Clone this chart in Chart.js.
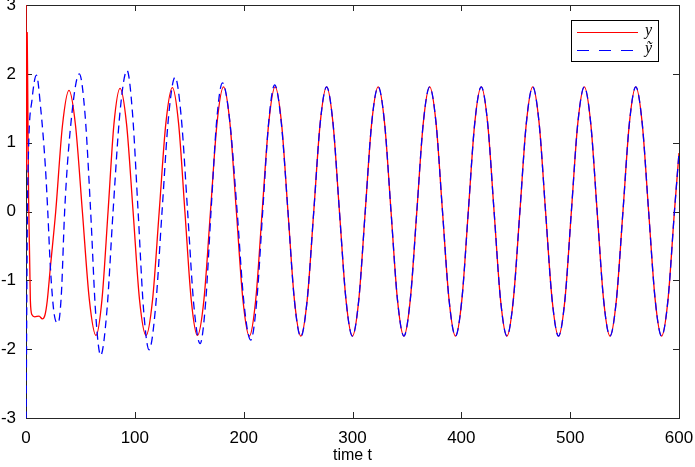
<!doctype html>
<html lang="en">
  <head>
    <meta charset="utf-8">
    <title>y and y tilde over time</title>
    <style>
      * { margin: 0; padding: 0; }
      body { background: white; }
      .chartBox { width: 695px; height: 467px; }
    </style>
  </head>
  <body>
    <div class="chartBox">
      <canvas id="myChart"></canvas>
    </div>
    <script src="https://cdn.jsdelivr.net/npm/chart.js/dist/chart.umd.min.js"></script>
    <script>
    // setup - values
    const xTicks = [0, 100, 200, 300, 400, 500, 600];
    const yTicks = [-3, -2, -1, 0, 1, 2, 3];

    // y (red) start-up part
    const yStartT = [0, 0.5, 1.1, 1.8, 2.4, 4, 5.5, 8, 12, 15, 17.5, 19.5, 22.4, 27.3, 33.5, 39.5,
      45.5, 51.8, 58.2, 64.3, 69.8, 75.4, 80.8, 86.4, 92.4, 98.4, 104.3, 110.3, 116.3, 122.4, 128.5, 134.5,
      140.2, 146.0, 151.8, 157.5, 163.5, 169.5, 175.5, 181.5, 187.4, 193.3, 199.3, 205.2, 211.1, 217.0,
      223.0, 228.9, 234.8, 240.7, 246.6, 252.5];
    const yStartV = [3.4, 0.6, 2.6, 1.3, 0.17, -1.29, -1.5, -1.53, -1.52, -1.56, -1.5, -1.3, -0.81, 0, 1.25, 1.76,
      1.25, 0, -1.28, -1.80, -1.28, 0, 1.27, 1.79, 1.27, 0, -1.28, -1.80, -1.28, 0, 1.28, 1.80,
      1.28, 0, -1.28, -1.80, -1.28, 0, 1.28, 1.81, 1.28, 0, -1.28, -1.81, -1.28, 0,
      1.28, 1.81, 1.28, 0, -1.28, -1.81];

    // y tilde (blue) start-up part
    const ytStartT = [0, 1.2, 2.4, 5.5, 9.6, 13.5, 17.8, 20, 22.4, 26, 29.5, 32.5, 35.5, 40.4, 49,
      54.2, 59.4, 64, 68.6, 74.3, 80, 86.4, 92.8, 97.9, 103, 108, 113.1, 119, 125, 131, 137,
      142.7, 148.5, 154.2, 160, 165, 170, 175.2, 180.5, 187.2, 194, 200.2, 206.5, 212, 217.5,
      223, 228.5, 234.5, 240.7, 246.6, 252.5];
    const ytStartV = [-3.4, -0.2, 0.94, 1.62, 1.98, 1.5, 0.65, 0, -0.81, -1.5, -1.62, -1.2, 0, 1.14, 2.0,
      1.42, 0, -1.48, -2.09, -1.45, 0, 1.45, 2.05, 1.42, 0, -1.42, -2.01, -1.4, 0, 1.38, 1.95,
      1.36, 0, -1.36, -1.92, -1.33, 0, 1.32, 1.87, 1.32, 0, -1.32, -1.87, -1.3, 0,
      1.3, 1.84, 1.3, 0, -1.29, -1.82];

    // after t ~ 255 both curves sit on top of each other
    const bothT = [258.4, 264.4, 270.3, 276.2, 282.1, 288.0, 294.0, 299.9, 305.8, 311.7, 317.6, 323.6,
      329.5, 335.4, 341.3, 347.2, 353.1, 359.1, 365.0, 370.9, 376.8, 382.7, 388.7, 394.6,
      400.5, 406.4, 412.3, 418.3, 424.2, 430.1, 436.0, 441.9, 447.8, 453.8, 459.7, 465.6,
      471.5, 477.4, 483.4, 489.3, 495.2, 501.1, 507.0, 513.0, 518.9, 524.8, 530.7, 536.6,
      542.5, 548.5, 554.4, 560.3, 566.2, 572.1, 578.1, 584.0, 589.9, 595.8, 600];
    const bothV = [-1.28, 0, 1.28, 1.81, 1.28, 0, -1.28, -1.81, -1.28, 0, 1.28, 1.81,
      1.28, 0, -1.28, -1.81, -1.28, 0, 1.28, 1.81, 1.28, 0, -1.28, -1.81,
      -1.28, 0, 1.28, 1.81, 1.28, 0, -1.28, -1.81, -1.28, 0, 1.28, 1.81,
      1.28, 0, -1.28, -1.81, -1.28, 0, 1.28, 1.81, 1.28, 0, -1.28, -1.81,
      -1.28, 0, 1.28, 1.81, 1.28, 0, -1.28, -1.81, -1.28, 0, 0.85];

    const toPoints = (ts, vs) => ts.map((t, i) => ({ x: t, y: vs[i] }));

    const data = {
      datasets: [{
        label: 'y',
        data: toPoints(yStartT.concat(bothT), yStartV.concat(bothV)),
        borderColor: '#ff0000',
        borderWidth: 1.3,
        order: 2,
      }, {
        label: 'ỹ',
        data: toPoints(ytStartT.concat(bothT), ytStartV.concat(bothV)),
        borderColor: '#0000ff',
        borderWidth: 1.3,
        borderDash: [8, 5],
        order: 1,
      }]
    };

    // matlab style box with inward ticks
    const axesBox = {
      id: 'axesBox',
      beforeDatasetsDraw(chart) {
        const { ctx, chartArea: { top, bottom, left, right }, scales: { x, y } } = chart;
        ctx.save();
        ctx.strokeStyle = '#262626';
        ctx.lineWidth = 1;
        ctx.strokeRect(left + 0.5, top + 0.5, right - left, bottom - top);
        ctx.beginPath();
        xTicks.forEach(v => {
          const px = Math.round(x.getPixelForValue(v)) + 0.5;
          ctx.moveTo(px, bottom); ctx.lineTo(px, bottom - 6);
          ctx.moveTo(px, top); ctx.lineTo(px, top + 6);
        });
        yTicks.forEach(v => {
          const py = Math.round(y.getPixelForValue(v)) + 0.5;
          ctx.moveTo(left, py); ctx.lineTo(left + 6, py);
          ctx.moveTo(right, py); ctx.lineTo(right - 6, py);
        });
        ctx.stroke();
        ctx.restore();
      }
    };

    // legend box top right
    const legendBox = {
      id: 'legendBox',
      afterDatasetsDraw(chart) {
        const { ctx } = chart;
        const bx = 571.5, by = 20.5, bw = 87, bh = 41;
        ctx.save();
        ctx.fillStyle = 'white';
        ctx.fillRect(bx, by, bw, bh);
        ctx.strokeStyle = '#000';
        ctx.lineWidth = 1;
        ctx.strokeRect(bx, by, bw, bh);

        ctx.lineWidth = 1.2;
        ctx.strokeStyle = '#ff0000';
        ctx.beginPath();
        ctx.moveTo(577, 32.5); ctx.lineTo(638, 32.5);
        ctx.stroke();
        ctx.strokeStyle = '#0000ff';
        ctx.setLineDash([12, 10]);
        ctx.beginPath();
        ctx.moveTo(577, 50.5); ctx.lineTo(639, 50.5);
        ctx.stroke();
        ctx.setLineDash([]);

        ctx.fillStyle = '#000';
        ctx.font = 'italic 16px "Liberation Serif"';
        ctx.textAlign = 'left';
        ctx.textBaseline = 'alphabetic';
        ctx.fillText('y', 645, 35);
        ctx.fillText('ỹ', 645, 53);
        ctx.restore();
      }
    };

    const tickFont = { family: '"Liberation Sans", Arial, sans-serif', size: 17 };
    const titleFont = { family: '"Liberation Sans", Arial, sans-serif', size: 16 };

    // config
    const config = {
      type: 'line',
      data,
      options: {
        responsive: true,
        maintainAspectRatio: false,
        animation: false,
        layout: {
          padding: { top: 5, right: 16, left: 0, bottom: 0 }
        },
        elements: {
          point: { radius: 0 },
          line: { cubicInterpolationMode: 'monotone', fill: false }
        },
        scales: {
          x: {
            type: 'linear',
            min: 0,
            max: 600,
            grid: { display: false, drawTicks: false },
            border: { display: false },
            ticks: { stepSize: 100, font: tickFont, color: '#000', padding: 10, maxRotation: 0 },
            title: { display: true, text: 'time t', font: titleFont, color: '#000', padding: { top: 0, bottom: 2 } },
            afterFit(scale) {
              scale.height = 49;
              scale.paddingLeft = 0;
              scale.paddingRight = 0;
            }
          },
          y: {
            min: -3,
            max: 3,
            grid: { display: false, drawTicks: false },
            border: { display: false },
            ticks: { stepSize: 1, font: tickFont, color: '#000', padding: 10 },
            afterFit(scale) {
              scale.width = 26;
              scale.paddingTop = 0;
              scale.paddingBottom = 0;
            }
          }
        },
        plugins: {
          legend: { display: false },
          tooltip: { enabled: false }
        }
      },
      plugins: [axesBox, legendBox]
    };

    const myChart = new Chart(document.getElementById('myChart'), config);
    </script>
  </body>
</html>
